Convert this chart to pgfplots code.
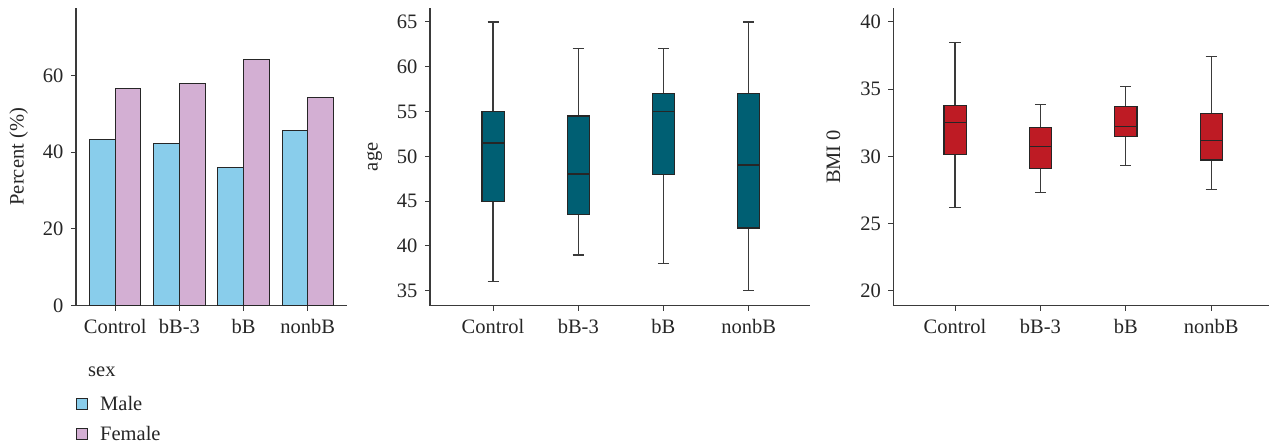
\documentclass[border=0pt]{standalone}
\usepackage{fontspec}
\setmainfont{Liberation Serif}
\usepackage{pgfplots}
\pgfplotsset{compat=1.18}
\definecolor{male}{HTML}{89CDEB}
\definecolor{female}{HTML}{D3AFD3}
\definecolor{myteal}{HTML}{005F73}
\definecolor{myred}{HTML}{BE1B24}
\definecolor{axgray}{HTML}{3A3A3A}
\newcommand{\fs}{\fontsize{20.5}{24}\selectfont}
\pgfplotsset{
  mystyle/.style={
    scale only axis, anchor=south west,
    axis x line*=bottom, axis y line*=left,
    axis line style={axgray, line width=1.2pt},
    tick style={axgray, line width=1pt},
    major tick length=5pt, tick align=outside,
    tick label style={font=\fs, text=black!85},
    yticklabel style={xshift=-4pt},
    xticklabel style={yshift=-5pt},
    label style={font=\fs, text=black!85},
    xtick={0,1,2,3}, xticklabels={Control,bB-3,bB,nonbB},
    /pgf/number format/assume math mode=true,
    clip=false,
  },
  wh/.style={axgray, line width=1.2pt, mark=none},
  bx/.style={fill=#1, draw=black!85, line width=1.2pt, mark=none},
  md/.style={black!85, line width=#1, mark=none},
}
% \boxp{center}{lower whisker}{Q1}{median}{Q3}{upper whisker}{colour}{median width}
\newcommand{\boxp}[8]{%
  \pgfmathsetmacro\bL{#1-0.13}\pgfmathsetmacro\bR{#1+0.13}%
  \pgfmathsetmacro\cL{#1-0.065}\pgfmathsetmacro\cR{#1+0.065}%
  \addplot[wh] coordinates {(#1,#2) (#1,#6)};
  \addplot[wh] coordinates {(\cL,#2) (\cR,#2)};
  \addplot[wh] coordinates {(\cL,#6) (\cR,#6)};
  \addplot[bx=#7] coordinates {(\bL,#3) (\bR,#3) (\bR,#5) (\bL,#5)} -- cycle;
  \addplot[md=#8] coordinates {(\bL,#4) (\bR,#4)};
}
\begin{document}
\begin{tikzpicture}[x=1pt,y=1pt]
\path[use as bounding box] (0,0) rectangle (1270,445);
% Panel 1
\begin{axis}[mystyle, at={(76pt,139.5pt)}, width=271pt, height=297.5pt,
  xmin=-0.61, xmax=3.61, ymin=0, ymax=77.6, ytick={0,20,40,60},
  ylabel={Percent (\%)}, ylabel shift=8pt]
\addplot[ybar, bar width=0.4, bar shift=-0.2, fill=male, draw=black!85, line width=1.1pt]
  coordinates {(0,43.4) (1,42.2) (2,35.9) (3,45.6)};
\addplot[ybar, bar width=0.4, bar shift=0.2, fill=female, draw=black!85, line width=1.1pt]
  coordinates {(0,56.6) (1,57.8) (2,64.1) (3,54.3)};
\end{axis}
% Panel 2
\begin{axis}[mystyle, at={(430pt,139.3pt)}, width=380pt, height=297.7pt,
  xmin=-0.74, xmax=3.72, ymin=33.33, ymax=66.56, ytick={35,40,...,65},
  ylabel={age}, ylabel shift=8pt]
\boxp{0}{36}{45}{51.5}{55}{65}{myteal}{1.8pt}
\boxp{1}{39}{43.5}{48}{54.5}{62}{myteal}{1.8pt}
\boxp{2}{38}{48}{55}{57}{62}{myteal}{1.8pt}
\boxp{3}{35}{42}{49}{57}{65}{myteal}{1.8pt}
\end{axis}
% Panel 3
\begin{axis}[mystyle, at={(893.3pt,139.3pt)}, width=376pt, height=297.7pt,
  xmin=-0.723, xmax=3.68, ymin=18.88, ymax=41.04, ytick={20,25,...,40},
  ylabel={BMI 0}, ylabel shift=13pt]
\boxp{0}{26.18}{30.12}{32.53}{33.77}{38.46}{myred}{1.2pt}
\boxp{1}{27.30}{29.11}{30.72}{32.16}{33.87}{myred}{1.2pt}
\boxp{2}{29.33}{31.46}{32.21}{33.70}{35.19}{myred}{1.2pt}
\boxp{3}{27.52}{29.73}{31.15}{33.20}{37.42}{myred}{1.2pt}
\end{axis}
% Legend
\node[anchor=west, font=\fs, text=black!85, inner sep=0pt] at (88,73) {sex};
\draw[draw=black!85, line width=1pt, fill=male] (76,36) rectangle (87.3,47);
\node[anchor=west, font=\fs, text=black!85, inner sep=0pt] at (100,42) {Male};
\draw[draw=black!85, line width=1pt, fill=female] (76,6) rectangle (87.3,17);
\node[anchor=west, font=\fs, text=black!85, inner sep=0pt] at (100,12) {Female};
\end{tikzpicture}
\end{document}
